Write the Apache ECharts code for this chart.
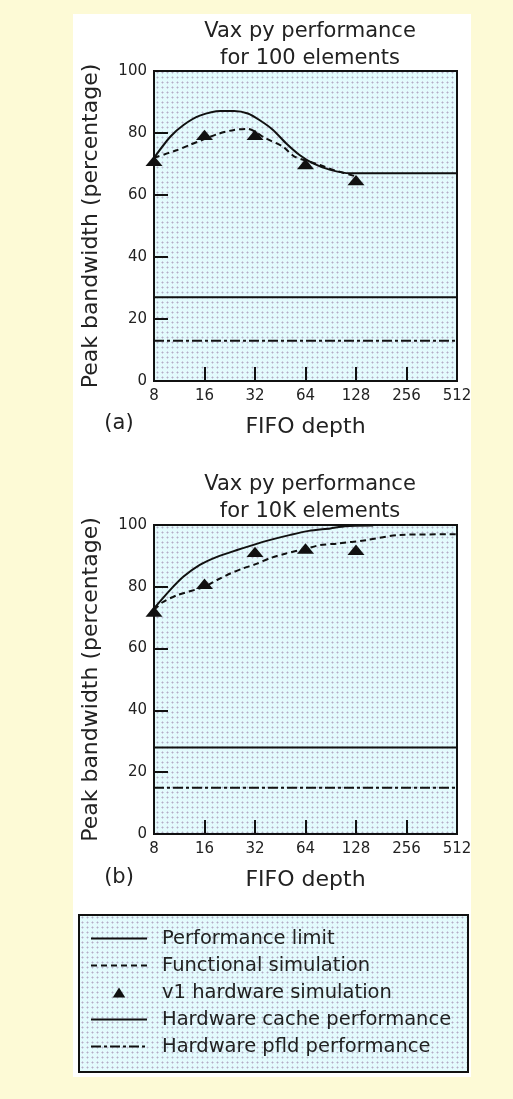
<!DOCTYPE html>
<html>
<head>
<meta charset="utf-8">
<script src="https://cdn.jsdelivr.net/npm/echarts@6/dist/echarts.min.js"></script>
<style>
  html, body { margin: 0; padding: 0; background: #fdfad6; }
  #chart { width: 513px; height: 1099px; }
</style>
</head>
<body>
<div id="chart"></div>
<script>
  // values, [FIFO depth, peak bandwidth %]
  var yTicks = [0, 20, 40, 60, 80, 100];
  var depthTicks = [8, 16, 32, 64, 128, 256, 512];

  // (a) 100 elements
  var perfLimitA = [[8, 72], [10, 78.8], [12, 82.6], [15, 85.6], [20, 87.1], [24, 87.1], [29, 86.3], [34, 84.2], [41, 81], [49, 76.7], [59, 72.9], [71, 70.2], [90, 68.1], [118, 67], [512, 67]];
  var funcSimA = [[8, 72], [11, 74.5], [13, 76.1], [19, 79.6], [24, 81], [29, 81.3], [37, 78.3], [47, 75.6], [55, 72.4], [78, 69.7], [94, 68.1], [128, 66]];
  var hwSimA = [[8, 71], [16, 79.4], [32, 79.4], [64, 70], [128, 64.8]];
  var cacheA = 27;
  var pfldA = 13;

  // (b) 10K elements
  var perfLimitB = [[8, 73], [10, 79], [12, 83.3], [15, 87.1], [19, 89.7], [25, 91.9], [31, 93.5], [39, 95.1], [52, 96.8], [67, 98.1], [90, 98.9], [110, 99.6], [162, 99.8]];
  var funcSimB = [[8, 72.5], [9, 75], [11, 77.3], [16, 80], [19, 82.2], [23, 84.4], [27, 85.9], [33, 87.5], [39, 89.2], [49, 90.8], [64, 92.3], [78, 93.5], [99, 94], [147, 95.1], [234, 96.8], [512, 97]];
  var hwSimB = [[8, 72], [16, 81], [32, 91.3], [64, 92.4], [128, 92]];
  var cacheB = 28;
  var pfldB = 15;

  var names = ['Performance limit', 'Functional simulation', 'v1 hardware simulation', 'Hardware cache performance', 'Hardware pfld performance'];

  var font = 'DejaVu Sans';
  var ink = '#111';
  var textInk = '#222';

  // dotted light-blue fill used in the plots and the legend box
  function dotPattern() {
    var c = document.createElement('canvas');
    c.width = 5; c.height = 5;
    var g = c.getContext('2d');
    g.fillStyle = '#e3fbfd';
    g.fillRect(0, 0, 5, 5);
    g.fillStyle = '#cfd2e2';
    g.fillRect(1, 2, 3, 1);
    g.fillRect(2, 1, 1, 3);
    g.fillStyle = '#aeb0c6';
    g.fillRect(2, 2, 1, 1);
    return { image: c, repeat: 'repeat' };
  }
  var dots = dotPattern();

  var myChart = echarts.init(document.getElementById('chart'));

  function xAxisFor(i) {
    return {
      gridIndex: i,
      type: 'log',
      logBase: 2,
      min: depthTicks[0],
      max: depthTicks[depthTicks.length - 1],
      interval: 1,
      splitNumber: 6,
      name: 'FIFO depth',
      nameLocation: 'middle',
      nameGap: 35,
      nameTextStyle: { fontSize: 22, fontFamily: font, color: textInk },
      axisLine: { show: true, lineStyle: { color: ink, width: 2 } },
      axisTick: { show: true, inside: true, length: 14, lineStyle: { color: ink, width: 2 } },
      axisLabel: { fontSize: 15, fontFamily: font, color: textInk, margin: 8 },
      splitLine: { show: false }
    };
  }

  function yAxisFor(i) {
    return {
      gridIndex: i,
      type: 'value',
      min: yTicks[0],
      max: yTicks[yTicks.length - 1],
      interval: 20,
      name: 'Peak bandwidth (percentage)',
      nameLocation: 'middle',
      nameGap: 52,
      nameTextStyle: { fontSize: 22, fontFamily: font, color: textInk },
      axisLine: { show: true, lineStyle: { color: ink, width: 2 } },
      axisTick: { show: true, inside: true, length: 14, lineStyle: { color: ink, width: 2 } },
      axisLabel: { fontSize: 15, fontFamily: font, color: textInk, margin: 7 },
      splitLine: { show: false }
    };
  }

  function seriesFor(i, perf, func, hw, cache, pfld) {
    return [
      {
        name: names[0], type: 'line', xAxisIndex: i, yAxisIndex: i,
        data: perf, smooth: 0.25, symbol: 'none',
        lineStyle: { color: ink, width: 2, type: 'solid' }
      },
      {
        name: names[1], type: 'line', xAxisIndex: i, yAxisIndex: i,
        data: func, smooth: 0.25, symbol: 'none',
        lineStyle: { color: ink, width: 2, type: [6, 4] }
      },
      {
        name: names[2], type: 'scatter', xAxisIndex: i, yAxisIndex: i,
        data: hw,
        symbol: 'path://M0,12L7.5,0L15,12Z',
        symbolSize: [17, 13],
        symbolKeepAspect: true,
        itemStyle: { color: ink, opacity: 1 }
      },
      {
        name: names[3], type: 'line', xAxisIndex: i, yAxisIndex: i,
        data: [[8, cache], [512, cache]], symbol: 'none',
        lineStyle: { color: ink, width: 2, type: 'solid' }
      },
      {
        name: names[4], type: 'line', xAxisIndex: i, yAxisIndex: i,
        data: [[8, pfld], [512, pfld]], symbol: 'none',
        lineStyle: { color: ink, width: 2, type: [10, 3, 3, 3] }
      }
    ];
  }

  var titleStyle = { fontSize: 21, fontWeight: 'normal', fontFamily: font, color: textInk, lineHeight: 27 };

  var option = {
    animation: false,
    backgroundColor: '#ffffff',
    title: [
      { text: 'Vax py performance\nfor 100 elements', left: 305, top: 13, textAlign: 'center', textStyle: titleStyle },
      { text: 'Vax py performance\nfor 10K elements', left: 305, top: 466, textAlign: 'center', textStyle: titleStyle }
    ],
    grid: [
      { left: 154, top: 71, width: 303, height: 310, show: true, backgroundColor: dots, borderColor: ink, borderWidth: 2 },
      { left: 154, top: 525, width: 303, height: 309, show: true, backgroundColor: dots, borderColor: ink, borderWidth: 2 }
    ],
    xAxis: [xAxisFor(0), xAxisFor(1)],
    yAxis: [yAxisFor(0), yAxisFor(1)],
    legend: {
      data: [
        names[0],
        names[1],
        { name: names[2], itemStyle: { opacity: 1 } },
        names[3],
        names[4]
      ],
      orient: 'vertical',
      left: 90,
      top: 925,
      padding: 0,
      itemGap: 0,
      itemWidth: 56,
      itemHeight: 10,
      selectedMode: false,
      // hide the dot that line series put in the middle of their legend line
      itemStyle: { opacity: 0 },
      textStyle: { fontSize: 19.5, fontFamily: font, color: textInk, lineHeight: 27, padding: [0, 0, 0, 10] }
    },
    graphic: [
      // pale yellow page margins around the white panel
      { type: 'rect', shape: { x: 0, y: 0, width: 73, height: 1099 }, style: { fill: '#fdfad6' }, silent: true },
      { type: 'rect', shape: { x: 471, y: 0, width: 42, height: 1099 }, style: { fill: '#fdfad6' }, silent: true },
      { type: 'rect', shape: { x: 0, y: 0, width: 513, height: 14 }, style: { fill: '#fdfad6' }, silent: true },
      { type: 'rect', shape: { x: 0, y: 1077, width: 513, height: 22 }, style: { fill: '#fdfad6' }, silent: true },
      // legend box
      { type: 'rect', shape: { x: 79, y: 915, width: 389, height: 157 }, style: { fill: dots, stroke: ink, lineWidth: 2 }, silent: true },
      { type: 'text', x: 119, y: 424, style: { text: '(a)', font: '21px ' + font, fill: textInk, align: 'center', verticalAlign: 'middle' } },
      { type: 'text', x: 119, y: 878, style: { text: '(b)', font: '21px ' + font, fill: textInk, align: 'center', verticalAlign: 'middle' } }
    ],
    series: seriesFor(0, perfLimitA, funcSimA, hwSimA, cacheA, pfldA)
      .concat(seriesFor(1, perfLimitB, funcSimB, hwSimB, cacheB, pfldB))
  };

  myChart.setOption(option);
  window.addEventListener('resize', function () {
    myChart.resize();
  });
</script>
</body>
</html>
